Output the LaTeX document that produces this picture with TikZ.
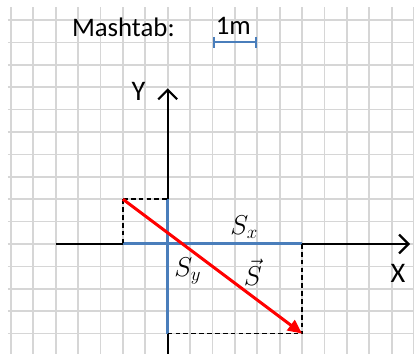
\documentclass[tikz,border=0pt]{standalone}
\usepackage{fontspec}
\setmainfont{Carlito}
\usepackage{tikz}
\usetikzlibrary{arrows.meta,positioning}
\definecolor{gridgray}{HTML}{D6D6D6}
\definecolor{compblue}{HTML}{4A7EBB}
\definecolor{vecred}{HTML}{FF0000}

\begin{document}
\begin{tikzpicture}[x=0.5cm,y=0.5cm,
  axis/.style={black,line width=1.4pt,-{Straight Barb[length=6pt,width=12pt,line width=1.4pt]}},
  comp/.style={compblue,line width=1.9pt},
  proj/.style={black,line width=0.9pt,dash pattern=on 3pt off 2pt},
  txt/.style={font=\fontsize{17}{19}\selectfont,inner sep=0pt},
  axlbl/.style={font=\fontsize{18}{20}\selectfont,inner sep=0pt},
  mlbl/.style={font=\fontsize{17}{19}\selectfont,inner sep=0pt}]
  \useasboundingbox (-7.487,-4.911) rectangle (10.996,10.893);
  % grid paper
  \foreach \x in {-7,...,11}{\draw[gridgray,line width=1.1pt] (\x,-4.911)--(\x,10.58);}
  \foreach \y in {-4,...,10}{\draw[gridgray,line width=1.1pt] (-7.13,\y)--(10.996,\y);}
  % points
  \coordinate (O) at (0,0);
  \coordinate (xbeg) at (-5,0);
  \coordinate (xend) at (10.82,0);
  \coordinate (ybeg) at (0,-4.911);
  \coordinate (yend) at (0,6.95);
  \coordinate (A) at (-2,2);
  \coordinate (B) at (6,-4);
  \coordinate (Ax) at (-2,0);
  \coordinate (Ay) at (0,2);
  \coordinate (Bx) at (6,0);
  \coordinate (By) at (0,-4);
  \coordinate (s1) at (2,9);
  \coordinate (s2) at (4,9);
  % axes
  \draw[axis] (xbeg)--(xend);
  \draw[axis] (ybeg)--(yend);
  \node[axlbl] (xlab) at (10.28,-1.3) {X};
  \node[axlbl] (ylab) at (-1.3,6.83) {Y};
  % components and projections
  \draw[comp] (Ax)--(Bx);
  \draw[comp] (Ay)--(By);
  \draw[proj] (A)--(Ay);
  \draw[proj] (A)--(Ax);
  \draw[proj] (By)--(B);
  \draw[proj] (Bx)--(B);
  \draw[vecred,line width=1.9pt,-{Triangle[length=9pt,width=8pt]}] (A)--(B);
  \node[mlbl] (sx) at (3.42,0.76) {$S_x$};
  \node[mlbl] (sy) at (0.9,-1.2) {$S_y$};
  \node[mlbl] (svec) at (3.8,-1.25) {$\vec{S}$};
  % scale
  \node[txt] (mash) at (-1.98,9.69) {Mashtab:};
  \draw[compblue,line width=1.4pt,{Bar[width=7pt]}-{Bar[width=7pt]}] (s1)--(s2);
  \node[txt] (unit) at (2.93,9.75) {1m};
\end{tikzpicture}
\end{document}
